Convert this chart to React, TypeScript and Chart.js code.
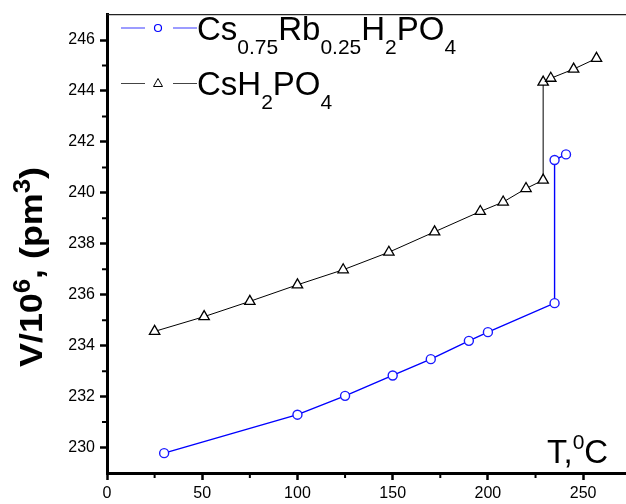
import { useEffect, useRef } from "react";
import { Chart, registerables } from "chart.js";
Chart.register(...registerables);

// Cs0.75Rb0.25H2PO4 (blue circles)
const tempRb = [30, 100, 125, 150, 170, 190, 200, 235, 235, 241];
const volRb = [229.78, 231.29, 232.03, 232.83, 233.47, 234.19, 234.53, 235.67, 241.29, 241.51];
// CsH2PO4 (black triangles)
const tempCs = [25, 51, 75, 100, 124, 148, 172, 196, 208, 220, 229, 229, 233, 245, 257];
const volCs = [234.56, 235.14, 235.74, 236.39, 236.98, 237.67, 238.47, 239.27, 239.64, 240.17, 240.5, 244.35, 244.5, 244.86, 245.28];

const xMajorTicks = [0, 50, 100, 150, 200, 250];
const xMinorTicks = [25, 75, 125, 175, 225];
const yMajorTicks = [230, 232, 234, 236, 238, 240, 242, 244, 246];
const yMinorTicks = [231, 233, 235, 237, 239, 241, 243, 245];

const FAM = "'Liberation Sans', Arial, Helvetica, sans-serif";

type Part = [string, "main" | "sub" | "sup"];
const legendRb: Part[] = [["Cs", "main"], ["0.75", "sub"], ["Rb", "main"], ["0.25", "sub"], ["H", "main"], ["2", "sub"], ["PO", "main"], ["4", "sub"]];
const legendCs: Part[] = [["CsH", "main"], ["2", "sub"], ["PO", "main"], ["4", "sub"]];
const yTitle: Part[] = [["V/10", "main"], ["6", "sup"], [", (pm", "main"], ["3", "sup"], [")", "main"]];
const xTitle: Part[] = [["T,", "main"], ["0", "sup"], ["C", "main"]];

function drawParts(ctx: CanvasRenderingContext2D, parts: Part[], x: number, y: number, mainFont: string, smallFont: string, subDy: number, supDy: number) {
  let cx = x;
  ctx.textBaseline = "alphabetic";
  ctx.textAlign = "left";
  for (const [t, kind] of parts) {
    ctx.font = kind === "main" ? mainFont : smallFont;
    const dy = kind === "sub" ? subDy : kind === "sup" ? -supDy : 0;
    ctx.fillText(t, cx, y + dy);
    cx += ctx.measureText(t).width;
  }
  return cx - x;
}
function measureParts(ctx: CanvasRenderingContext2D, parts: Part[], mainFont: string, smallFont: string) {
  let w = 0;
  for (const [t, kind] of parts) {
    ctx.font = kind === "main" ? mainFont : smallFont;
    w += ctx.measureText(t).width;
  }
  return w;
}

const decorPlugin = {
  id: "decor",
  afterDraw(chart: any) {
    const ctx: CanvasRenderingContext2D = chart.ctx;
    const { left, top, bottom } = chart.chartArea;
    const xs = chart.scales.x;
    const ys = chart.scales.y;
    ctx.save();
    // top frame line
    ctx.strokeStyle = "#222";
    ctx.lineWidth = 1.2;
    ctx.beginPath();
    ctx.moveTo(left, top);
    ctx.lineTo(chart.width, top);
    ctx.stroke();
    // minor ticks
    ctx.strokeStyle = "#000";
    ctx.lineWidth = 2;
    ctx.beginPath();
    for (const v of xMinorTicks) {
      const px = xs.getPixelForValue(v);
      ctx.moveTo(px, bottom);
      ctx.lineTo(px, bottom + 5);
    }
    for (const v of yMinorTicks) {
      const py = ys.getPixelForValue(v);
      ctx.moveTo(left, py);
      ctx.lineTo(left - 5, py);
    }
    ctx.stroke();

    ctx.fillStyle = "#000";
    // y title
    const yMain = `bold 32px ${FAM}`;
    const ySmall = `bold 23px ${FAM}`;
    const yw = measureParts(ctx, yTitle, yMain, ySmall);
    ctx.save();
    ctx.translate(42, 267);
    ctx.rotate(-Math.PI / 2);
    ctx.scale(1.12, 1);
    drawParts(ctx, yTitle, -yw / 2, 0, yMain, ySmall, 0, 12);
    ctx.restore();

    // x title
    drawParts(ctx, xTitle, 547, 463, `33px ${FAM}`, `21px ${FAM}`, 0, 14);

    // legend
    const lMain = `33px ${FAM}`;
    const lSmall = `21px ${FAM}`;
    // row 1
    ctx.strokeStyle = "#3b3bff";
    ctx.lineWidth = 1.2;
    ctx.beginPath();
    ctx.moveTo(121, 28);
    ctx.lineTo(145, 28);
    ctx.moveTo(173, 28);
    ctx.lineTo(197, 28);
    ctx.stroke();
    ctx.strokeStyle = "#0000ff";
    ctx.beginPath();
    ctx.arc(158, 28, 3.5, 0, Math.PI * 2);
    ctx.stroke();
    ctx.fillStyle = "#000";
    drawParts(ctx, legendRb, 197, 39.5, lMain, lSmall, 14, 0);
    // row 2
    ctx.strokeStyle = "#444";
    ctx.lineWidth = 1.2;
    ctx.beginPath();
    ctx.moveTo(121, 83.5);
    ctx.lineTo(145, 83.5);
    ctx.moveTo(173, 83.5);
    ctx.lineTo(197, 83.5);
    ctx.stroke();
    ctx.strokeStyle = "#000";
    ctx.lineWidth = 1;
    ctx.beginPath();
    ctx.moveTo(158, 78.5);
    ctx.lineTo(162.5, 86.5);
    ctx.lineTo(153.5, 86.5);
    ctx.closePath();
    ctx.stroke();
    drawParts(ctx, legendCs, 197, 94.5, lMain, lSmall, 14, 0);
    ctx.restore();
  },
};

export default function App() {
  const ref = useRef<HTMLCanvasElement>(null);
  useEffect(() => {
    const canvas = ref.current!;
    const chart = new Chart(canvas, {
      type: "scatter",
      data: {
        datasets: [
          {
            label: "Cs0.75Rb0.25H2PO4",
            data: tempRb.map((t, i) => ({ x: t, y: volRb[i] })),
            showLine: true,
            borderColor: "#0000ff",
            borderWidth: 1.4,
            pointStyle: "circle",
            pointRadius: 4.5,
            pointBorderWidth: 1.4,
            pointBorderColor: "#1a1aff",
            pointBackgroundColor: "#ffffff",
          },
          {
            label: "CsH2PO4",
            data: tempCs.map((t, i) => ({ x: t, y: volCs[i] })),
            showLine: true,
            borderColor: "#000000",
            borderWidth: 1,
            pointStyle: "triangle",
            pointRadius: 6,
            pointBorderWidth: 1.3,
            pointBorderColor: "#000000",
            pointBackgroundColor: "#ffffff",
          },
        ],
      },
      options: {
        responsive: false,
        animation: false,
        layout: { autoPadding: false, padding: { top: 14, right: 0, left: 0, bottom: 0 } },
        plugins: { legend: { display: false }, tooltip: { enabled: false } },
        scales: {
          x: {
            type: "linear",
            min: 0,
            max: 272.5,
            afterBuildTicks: (s: any) => {
              s.ticks = xMajorTicks.map((v) => ({ value: v }));
            },
            afterFit: (s: any) => {
              s.height = 31;
            },
            ticks: {
              autoSkip: false,
              maxRotation: 0,
              padding: 4,
              color: "#000",
              font: { family: FAM, size: 16 },
            },
            grid: {
              drawOnChartArea: false,
              drawTicks: true,
              tickLength: 7,
              tickWidth: 2.5,
              tickColor: "#000",
            },
            border: { color: "#000", width: 3 },
          },
          y: {
            type: "linear",
            min: 229,
            max: 247,
            afterBuildTicks: (s: any) => {
              s.ticks = yMajorTicks.map((v) => ({ value: v }));
            },
            afterFit: (s: any) => {
              s.width = 107;
            },
            ticks: {
              autoSkip: false,
              padding: 5,
              color: "#000",
              font: { family: FAM, size: 16 },
            },
            grid: {
              drawOnChartArea: false,
              drawTicks: true,
              tickLength: 7,
              tickWidth: 2.5,
              tickColor: "#000",
            },
            border: { color: "#000", width: 3 },
          },
        },
      },
      plugins: [decorPlugin],
    });
    return () => chart.destroy();
  }, []);
  return (
    <div style={{ position: "absolute", left: 0, top: 0, width: 626, height: 504, background: "#fff" }}>
      <canvas ref={ref} width={626} height={504} style={{ display: "block" }} />
    </div>
  );
}
